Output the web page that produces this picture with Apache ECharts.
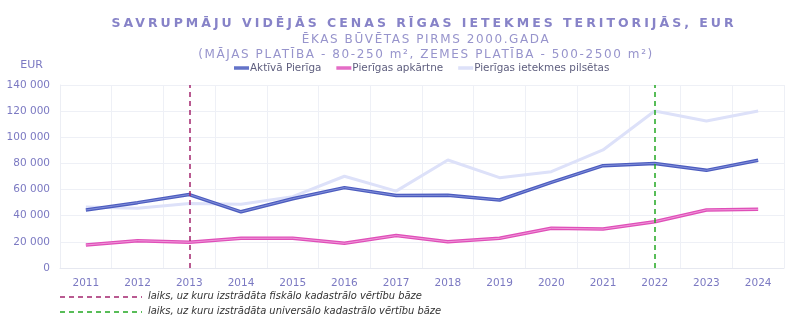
<!DOCTYPE html>
<html><head><meta charset="utf-8">
<script src="https://cdn.jsdelivr.net/npm/echarts@6/dist/echarts.min.js"></script>
<style>html,body{margin:0;padding:0;background:#fff}#c{width:800px;height:321px}</style>
</head><body><div id="c"></div>
<script>
const years = ['2011','2012','2013','2014','2015','2016','2017','2018','2019','2020','2021','2022','2023','2024'];
const aktivaPieriga = [44400, 50000, 56200, 43000, 53000, 61500, 55500, 55600, 52000, 65500, 78300, 80000, 74700, 82400];
const pierigasApkartne = [17600, 20900, 19700, 22700, 22800, 18900, 24800, 20100, 22700, 30400, 29800, 35400, 44400, 44900];
const ietekmesPilsetas = [46700, 45800, 49300, 48800, 54600, 70200, 58800, 82600, 69100, 73700, 90300, 120100, 112500, 120100];
const yTicks = {min: 0, max: 140000, interval: 20000};
const markYears = {fiscal: '2013', universal: '2022'};
const names = ['Aktīvā Pierīga', 'Pierīgas apkārtne', 'Pierīgas ietekmes pilsētas'];

const chart = echarts.init(document.getElementById('c'), null, {renderer: 'canvas'});
const axisColor = '#7b79c2';
const fmt = v => String(v).replace(/\B(?=(\d{3})+(?!\d))/g, ' ');
chart.setOption({
  animation: false,
  title: [
    {text: 'SAVRUPMĀJU VIDĒJĀS CENAS RĪGAS IETEKMES TERITORIJĀS, EUR', left: 419, textAlign: 'center', top: 12, zlevel: 5,
     textStyle: {fontFamily: 'DejaVu Sans', fontWeight: 'bold', fontSize: 12.5, color: '#8783c8'}},
    {text: 'ĒKAS BŪVĒTAS PIRMS 2000.GADA', left: 421, textAlign: 'center', top: 29, zlevel: 6,
     textStyle: {fontFamily: 'DejaVu Sans', fontWeight: 'normal', fontSize: 12, color: '#9794cc'}},
    {text: '(MĀJAS PLATĪBA - 80-250 m², ZEMES PLATĪBA - 500-2500 m²)', left: 421, textAlign: 'center', top: 44, zlevel: 6,
     textStyle: {fontFamily: 'DejaVu Sans', fontWeight: 'normal', fontSize: 12, color: '#9794cc'}}
  ],
  legend: {
    data: names, top: 63, left: 234, padding: 0, itemWidth: 15, itemHeight: 3.5, itemGap: 15, icon: 'rect',
    textStyle: {fontFamily: 'DejaVu Sans', fontSize: 10.4, color: '#5e5e7e', padding: [0,0,0,-4]}
  },
  grid: {left: 60, right: 16, top: 85, bottom: 53},
  xAxis: {
    type: 'category', data: years, boundaryGap: true,
    axisLine: {show: true, lineStyle: {color: '#e6e8f0'}},
    axisTick: {show: false},
    splitLine: {show: true, lineStyle: {color: '#eef0f6'}},
    axisLabel: {color: axisColor, fontFamily: 'DejaVu Sans', fontSize: 10.5, margin: 10}
  },
  yAxis: {
    type: 'value', min: yTicks.min, max: yTicks.max, interval: yTicks.interval,
    name: 'EUR', nameLocation: 'end', nameGap: 14,
    nameTextStyle: {color: axisColor, fontFamily: 'DejaVu Sans', fontSize: 11, align: 'right', padding: [0, 17, 0, 0]},
    axisLine: {show: true, lineStyle: {color: '#eceef4'}},
    axisTick: {show: false},
    splitLine: {show: true, lineStyle: {color: '#eef0f6'}},
    axisLabel: {color: axisColor, fontFamily: 'DejaVu Sans', fontSize: 10.5, margin: 10, formatter: fmt}
  },
  series: [
    {name: names[2], type: 'line', data: ietekmesPilsetas, symbol: 'none', z: 2,
     lineStyle: {width: 3, color: '#dde1f9'}, itemStyle: {color: '#dde1f9'}},
    {name: names[0], type: 'line', data: aktivaPieriga, symbol: 'none', z: 3,
     lineStyle: {width: 3.5, color: '#4c5cbf'}, itemStyle: {color: '#6373c8'}},
    {name: 'a-inner', type: 'line', data: aktivaPieriga, symbol: 'none', z: 4, silent: true,
     lineStyle: {width: 0.8, color: '#8f9ce0'}},
    {name: names[1], type: 'line', data: pierigasApkartne, symbol: 'none', z: 3,
     lineStyle: {width: 3.5, color: '#df4fb8'}, itemStyle: {color: '#e46cc6'},
     markLine: {silent: true, symbol: 'none', label: {show: false},
       data: [
         {xAxis: markYears.fiscal, lineStyle: {color: '#a3256e', type: [5, 4], width: 1.5}},
         {xAxis: markYears.universal, lineStyle: {color: '#22a822', type: [5, 4], width: 1.5}}
       ]}},
    {name: 'p-inner', type: 'line', data: pierigasApkartne, symbol: 'none', z: 4, silent: true,
     lineStyle: {width: 0.8, color: '#f4a8e2'}}
  ],
  graphic: [
    {type: 'line', shape: {x1: 60, y1: 297, x2: 142, y2: 297}, style: {stroke: '#a3256e', lineWidth: 1.5, lineDash: [5, 4]}},
    {type: 'line', shape: {x1: 60, y1: 312, x2: 142, y2: 312}, style: {stroke: '#22a822', lineWidth: 1.5, lineDash: [5, 4]}},
    {type: 'text', left: 148, top: 291, style: {text: 'laiks, uz kuru izstrādāta fiskālo kadastrālo vērtību bāze', fill: '#333', font: 'italic 11px "Liberation Sans Narrow", "DejaVu Sans Condensed", sans-serif'}},
    {type: 'text', left: 148, top: 306, style: {text: 'laiks, uz kuru izstrādāta universālo kadastrālo vērtību bāze', fill: '#333', font: 'italic 11px "Liberation Sans Narrow", "DejaVu Sans Condensed", sans-serif'}}
  ]
});
// letter spacing for the title layers (canvas text tracking)
try {
  const painter = chart.getZr().painter;
  const l5 = painter.getLayer(5), l6 = painter.getLayer(6);
  if (l5 && l5.ctx) l5.ctx.letterSpacing = '3px';
  if (l6 && l6.ctx) l6.ctx.letterSpacing = '1.6px';
  painter.refresh(true);
} catch (e) {}
</script></body></html>
